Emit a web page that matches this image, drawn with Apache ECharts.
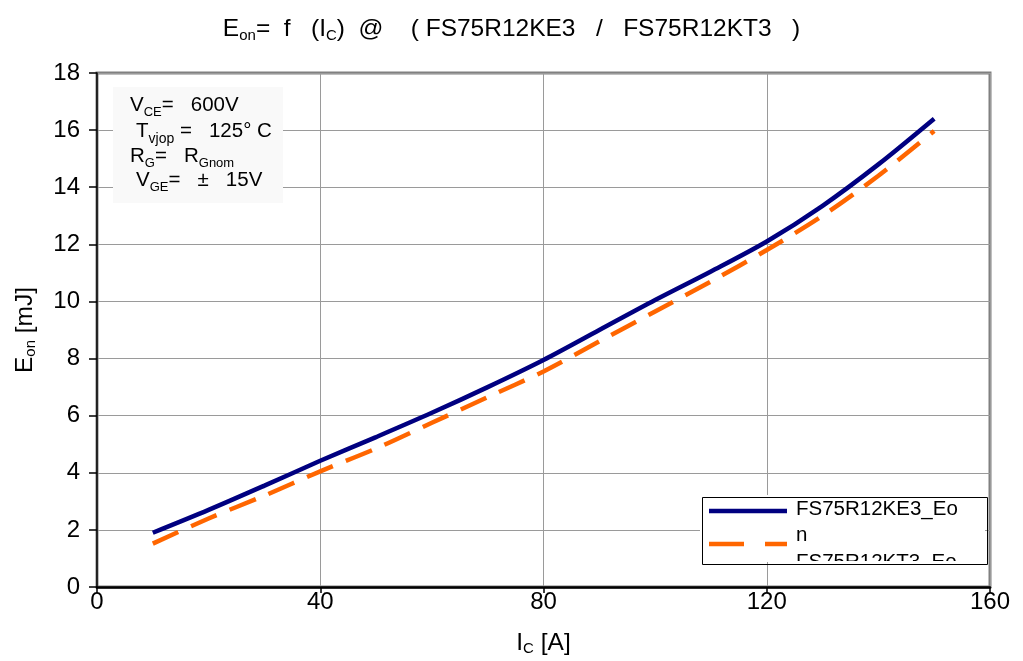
<!DOCTYPE html>
<html>
<head>
<meta charset="utf-8">
<script src="https://cdn.jsdelivr.net/npm/echarts@6/dist/echarts.min.js"></script>
<style>
html,body{margin:0;padding:0;background:#fff;}
#chart{width:1023px;height:661px;}
</style>
</head>
<body>
<div id="chart"></div>
<script>
// ---- data ----
var icValues = [10, 20, 30, 40, 50, 60, 70, 80, 90, 100, 110, 120, 130, 140, 150];
var eonKE3 = [1.9, 2.7, 3.55, 4.42, 5.25, 6.1, 7.0, 7.95, 9.0, 10.05, 11.05, 12.1, 13.35, 14.8, 16.4];
var eonKT3 = [1.52, 2.4, 3.2, 4.05, 4.85, 5.75, 6.65, 7.55, 8.6, 9.65, 10.7, 11.8, 13.0, 14.4, 15.97];
var xTicks = [0, 40, 80, 120, 160];
var yTicks = [0, 2, 4, 6, 8, 10, 12, 14, 16, 18];
var seriesNames = ['FS75R12KE3_Eon', 'FS75R12KT3_Eon'];

function pairs(xs, ys) { return xs.map(function (x, i) { return [x, ys[i]]; }); }

var FONT = '"Liberation Sans", Arial, sans-serif';
var chart = echarts.init(document.getElementById('chart'), null, {renderer: 'canvas'});

var mainT = {fontSize: 24.5, fontFamily: FONT, color: '#000', fontWeight: 'normal', lineHeight: 28};
var subT = {fontSize: 15, fontFamily: FONT, color: '#000', fontWeight: 'normal', verticalAlign: 'bottom', lineHeight: 24};
var annoA = {fontSize: 20.5, fontFamily: FONT, fill: '#000'};
var annoS = {fontSize: 13, fontFamily: FONT, fill: '#000', verticalAlign: 'bottom', lineHeight: 27};

var option = {
  animation: false,
  backgroundColor: '#fff',
  title: {
    text: '{a|E}{s|on}{a|=  f   (I}{s|C}{a|)  @    ( FS75R12KE3   /   FS75R12KT3   )}',
    left: 'center',
    top: 10,
    textStyle: {
      fontWeight: 'normal',
      rich: { a: mainT, s: subT }
    }
  },
  grid: {
    left: 97, right: 33, top: 73, bottom: 67,
    show: true, borderColor: '#808080', borderWidth: 3, backgroundColor: 'transparent'
  },
  xAxis: {
    type: 'value', min: xTicks[0], max: xTicks[xTicks.length - 1], interval: 40,
    name: '{a|I}{s|C}{a| [A]}', nameLocation: 'middle', nameGap: 43,
    nameTextStyle: {rich: {a: {fontSize: 24.5, fontFamily: FONT, color: '#000', lineHeight: 26}, s: {fontSize: 15, fontFamily: FONT, color: '#000', verticalAlign: 'bottom', lineHeight: 22}}},
    axisLine: {show: true, onZero: false, lineStyle: {color: '#000', width: 2.5}},
    axisTick: {show: true, inside: false, length: 6, lineStyle: {color: '#000', width: 1.5}},
    axisLabel: {fontSize: 24, fontFamily: FONT, color: '#000', margin: 3},
    splitLine: {show: true, lineStyle: {color: '#9a9a9a', width: 1}}
  },
  yAxis: {
    type: 'value', min: yTicks[0], max: yTicks[yTicks.length - 1], interval: 2,
    name: '{a|E}{s|on}{a| [mJ]}', nameLocation: 'middle', nameGap: 59, nameRotate: 90,
    nameTextStyle: {rich: {a: {fontSize: 24.5, fontFamily: FONT, color: '#000', lineHeight: 26}, s: {fontSize: 15, fontFamily: FONT, color: '#000', verticalAlign: 'bottom', lineHeight: 22}}},
    axisLine: {show: true, onZero: false, lineStyle: {color: '#000', width: 1.5}},
    axisTick: {show: true, inside: false, length: 8, lineStyle: {color: '#000', width: 1.5}},
    axisLabel: {fontSize: 24, fontFamily: FONT, color: '#000', margin: 17},
    splitLine: {show: true, lineStyle: {color: '#9a9a9a', width: 1}}
  },
  series: [
    {
      name: seriesNames[0], type: 'line', smooth: 0.3, showSymbol: false,
      data: pairs(icValues, eonKE3),
      lineStyle: {color: '#000080', width: 4.5}, z: 3
    },
    {
      name: seriesNames[1], type: 'line', smooth: 0.3, showSymbol: false,
      data: pairs(icValues, eonKT3),
      lineStyle: {color: '#FF6600', width: 4.5, type: [28, 14]}, z: 2
    }
  ],
  graphic: [
    // annotation box
    {type: 'rect', left: 113, top: 87, shape: {width: 170, height: 116}, style: {fill: '#f9f9f9'}, z: 10},
    {type: 'text', left: 130, top: 95, z: 11, style: {
      text: '{a|V}{s|CE}{a|=   600V}', rich: {a: annoA, s: annoS}}},
    {type: 'text', left: 136, top: 121, z: 11, style: {
      text: '{a|T}{s|vjop}{a| =   125° C}', rich: {a: annoA, s: {fontSize: 14, fontFamily: FONT, fill: '#000', verticalAlign: 'bottom', lineHeight: 29}}}},
    {type: 'text', left: 130, top: 146, z: 11, style: {
      text: '{a|R}{s|G}{a|=   R}{s|Gnom}', rich: {a: annoA, s: annoS}}},
    {type: 'text', left: 136, top: 170, z: 11, style: {
      text: '{a|V}{s|GE}{a|=   ±   15V}', rich: {a: annoA, s: annoS}}},
    // legend box
    {type: 'rect', left: 700, top: 495, shape: {width: 285, height: 67}, style: {fill: '#fff'}, z: 10},
    {type: 'line', shape: {x1: 709, y1: 511, x2: 787, y2: 511}, style: {stroke: '#000080', lineWidth: 4.5}, z: 11},
    {type: 'line', shape: {x1: 709, y1: 544, x2: 787, y2: 544}, style: {stroke: '#FF6600', lineWidth: 4.5, lineDash: [35, 21]}, z: 11},
    {type: 'text', left: 796, top: 499, z: 11, style: {text: 'FS75R12KE3_Eo', fontSize: 20.5, fontFamily: FONT, fill: '#000'}},
    {type: 'text', left: 796, top: 525, z: 11, style: {text: 'n', fontSize: 20.5, fontFamily: FONT, fill: '#000'}},
    {type: 'text', left: 796, top: 552, z: 11, style: {text: 'FS75R12KT3_Eo', fontSize: 20.5, fontFamily: FONT, fill: '#000'}},
    {type: 'rect', left: 790, top: 561, shape: {width: 185, height: 16}, style: {fill: '#fff'}, z: 12},
    {type: 'rect', left: 700, top: 495, shape: {width: 285, height: 67}, style: {fill: 'none', stroke: '#000', lineWidth: 1}, z: 13}
  ]
};
chart.setOption(option);
</script>
</body>
</html>
